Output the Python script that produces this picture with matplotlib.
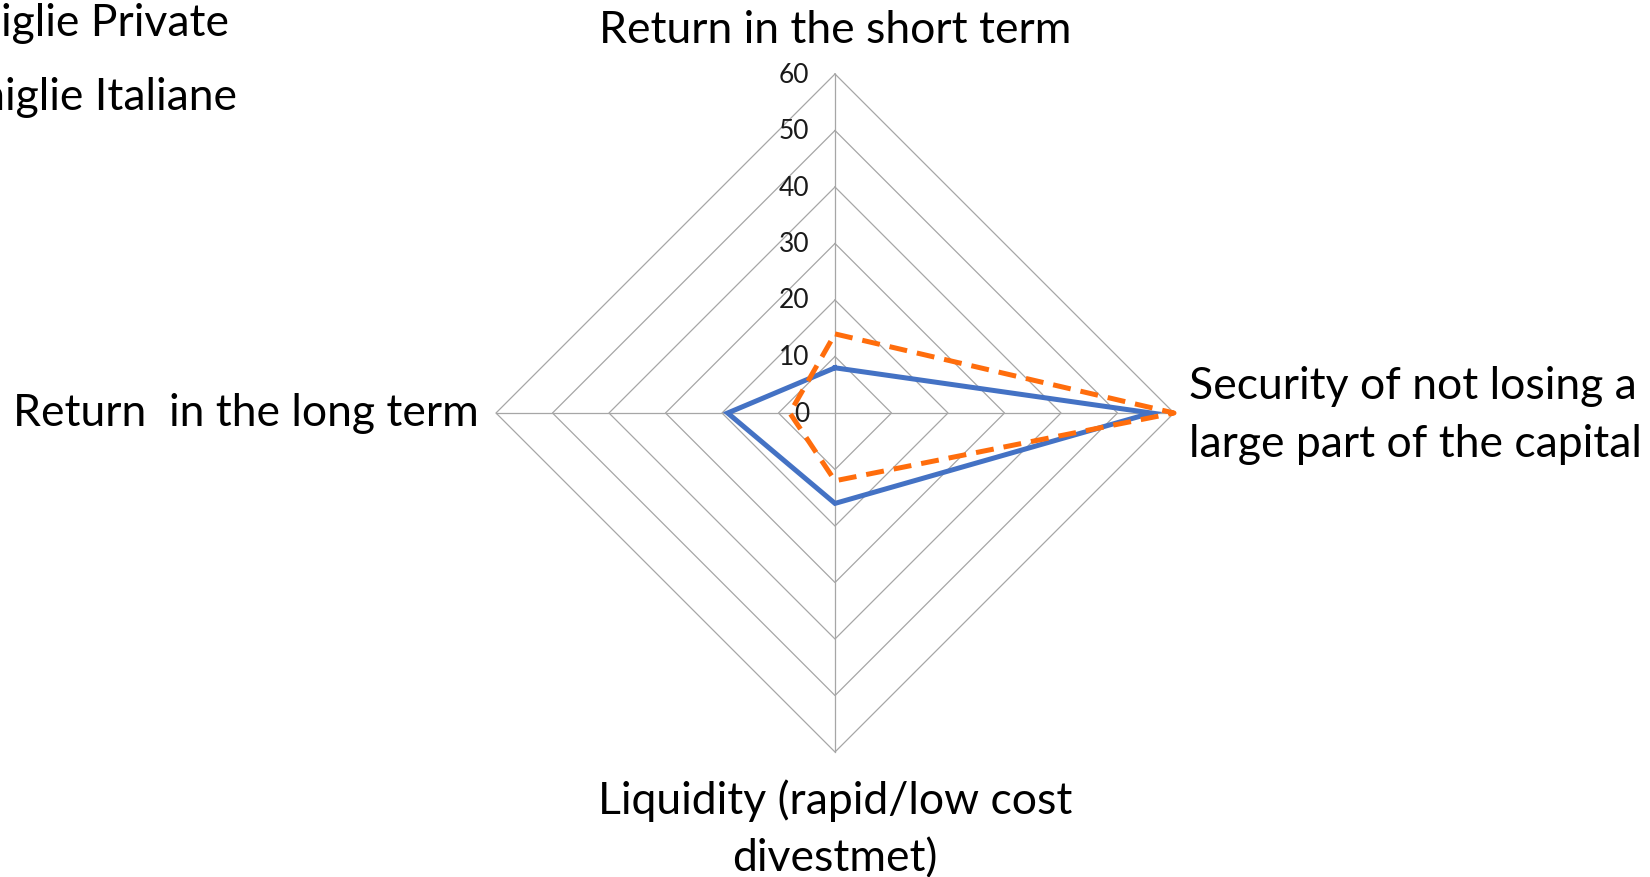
import numpy as np
import matplotlib
matplotlib.use("Agg")
import matplotlib.pyplot as plt

# categories, clockwise from top
categories = ["Return in the short term",
              "Security of not losing a\nlarge part of the capital",
              "Liquidity (rapid/low cost\ndivestmet)",
              "Return  in the long term"]
famiglie_private = [8, 56, 16, 19]
famiglie_italiane = [14, 60, 12, 8]
ring_values = [10, 20, 30, 40, 50, 60]
tick_labels = ["0", "10", "20", "30", "40", "50", "60"]

plt.rcParams['font.family'] = ['Lato', 'DejaVu Sans']

W, H = 1650, 878
fig = plt.figure(figsize=(W / 100, H / 100), dpi=100)
ax = fig.add_axes([0, 0, 1, 1])
ax.axis("off")

# pixel layout: center and outer radius
cx, cy, rmax_px = 835, 414, 339
u = 60 / rmax_px
ax.set_xlim(-cx * u, (W - cx) * u)
ax.set_ylim(-(H - cy) * u, cy * u)
ax.set_aspect("equal")

angles = np.deg2rad([90, 0, -90, 180])


def to_xy(vals):
    vals = np.asarray(vals, dtype=float)
    x = vals * np.cos(angles)
    y = vals * np.sin(angles)
    return np.append(x, x[0]), np.append(y, y[0])


grid_col = "#a6a6a6"
for r in ring_values:
    x, y = to_xy([r] * 4)
    ax.plot(x, y, color=grid_col, lw=0.9, zorder=1)
for a in angles:
    ax.plot([0, 60 * np.cos(a)], [0, 60 * np.sin(a)], color=grid_col, lw=0.9, zorder=1)

x, y = to_xy(famiglie_private)
ax.plot(x, y, color="#4472c4", lw=3.6, zorder=3, solid_joinstyle="miter")
x, y = to_xy(famiglie_italiane)
ax.plot(x, y, color="#ff6d0c", lw=3.6, ls=(0, (3.6, 2.0)), zorder=4)

# radial tick labels
for i, t in enumerate(tick_labels):
    ax.text(-4.6, i * 10, t, ha="right", va="center", fontsize=19, color="#1a1a1a")

# category labels
lab_fs = 32
ax.text(0, 65.6, categories[0], ha="center", va="baseline", fontsize=lab_fs)
ax.text(62.6, -0.3, categories[1], ha="left", va="center", fontsize=lab_fs, linespacing=1.5)
ax.text(0, -64.6, categories[2], ha="center", va="top", fontsize=lab_fs, linespacing=1.5)
ax.text(-63, 0, categories[3], ha="right", va="center", fontsize=lab_fs)

# legend (cut off at the left edge in the original)
fig.text(229 / W, 1 - 24 / H, "Famiglie Private", ha="right", va="center", fontsize=lab_fs)
fig.text(237 / W, 1 - 97 / H, "Famiglie Italiane", ha="right", va="center", fontsize=lab_fs)

fig.savefig("out.png", dpi=100)
